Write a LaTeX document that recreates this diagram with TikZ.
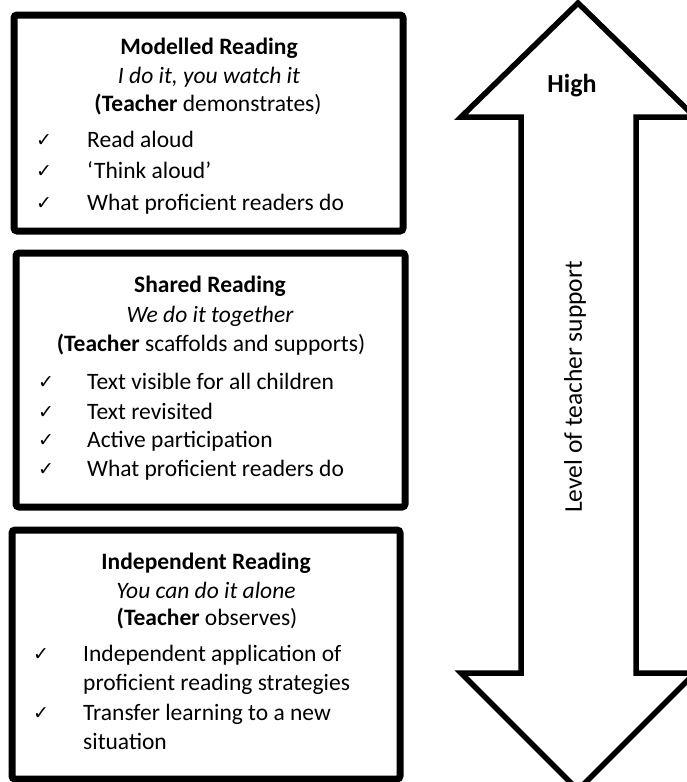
\documentclass[tikz,border=0pt]{standalone}
\usepackage{fontspec}
\setmainfont{Carlito}
\newfontfamily\symfont{DejaVu Sans}
\begin{document}
\begin{tikzpicture}[x=1pt,y=-1pt,
  boxframe/.style={draw=black,line width=7pt,rounded corners=3pt},
  arrowframe/.style={draw=black,line width=5.5pt,miter limit=10},
  txt/.style={inner sep=0pt,anchor=base,font=\fontsize{23.5}{28}\selectfont},
  itemtxt/.style={inner sep=0pt,anchor=base west,font=\fontsize{23.5}{28}\selectfont},
  tick/.style={inner sep=0pt,anchor=base west,font=\symfont\fontsize{19}{22}\selectfont}]
\useasboundingbox (0,0) rectangle (687,782);
\clip (0,0) rectangle (687,782);
% boxes
\draw[boxframe] (14,15) rectangle (403,231);
\draw[boxframe] (16,253) rectangle (405,507);
\draw[boxframe] (12,530) rectangle (400,779);
% box 1
\node[txt] (t1) at (209,54) {\textbf{Modelled Reading}};
\node[txt] (s1) at (209,83) {\itshape I do it, you watch it};
\node[txt] (r1) at (208,111) {\textbf{(Teacher} demonstrates)};
\node[tick] (c11) at (36,146) {✓};
\node[itemtxt] (i11) at (87,147) {Read aloud};
\node[tick] (c12) at (36,177) {✓};
\node[itemtxt] (i12) at (87,178) {‘Think aloud’};
\node[tick] (c13) at (36,209) {✓};
\node[itemtxt] (i13) at (87,210) {What proficient readers do};
% box 2
\node[txt] (t2) at (210,292) {\textbf{Shared Reading}};
\node[txt] (s2) at (210,322) {\itshape We do it together};
\node[txt] (r2) at (211,351) {\textbf{(Teacher} scaffolds and supports)};
\node[tick] (c21) at (38,388) {✓};
\node[itemtxt] (i21) at (87,389) {Text visible for all children};
\node[tick] (c22) at (38,418) {✓};
\node[itemtxt] (i22) at (87,419) {Text revisited};
\node[tick] (c23) at (38,446) {✓};
\node[itemtxt] (i23) at (87,447) {Active participation};
\node[tick] (c24) at (38,475) {✓};
\node[itemtxt] (i24) at (87,476) {What proficient readers do};
% box 3
\node[txt] (t3) at (206,569) {\textbf{Independent Reading}};
\node[txt] (s3) at (206,598) {\itshape You can do it alone};
\node[txt] (r3) at (207,625) {\textbf{(Teacher} observes)};
\node[tick] (c31) at (33,660) {✓};
\node[itemtxt] (i31) at (83,661) {Independent application of};
\node[itemtxt] (i32) at (83,690) {proficient reading strategies};
\node[tick] (c32) at (33,719) {✓};
\node[itemtxt] (i33) at (83,720) {Transfer learning to a new};
\node[itemtxt] (i34) at (83,749) {situation};
% double arrow
\draw[arrowframe] (578,3) -- (695,117) -- (636,117) -- (636,673) -- (695,673)
  -- (578,790) -- (461,673) -- (521,673) -- (521,117) -- (461,117) -- cycle;
\node[inner sep=0pt,anchor=base,font=\fontsize{26}{30}\selectfont\bfseries] (high) at (572,92) {High};
\node[inner sep=0pt,rotate=90,font=\fontsize{25.5}{30}\selectfont] (lvl) at (575,387) {Level of teacher support};
\end{tikzpicture}
\end{document}
